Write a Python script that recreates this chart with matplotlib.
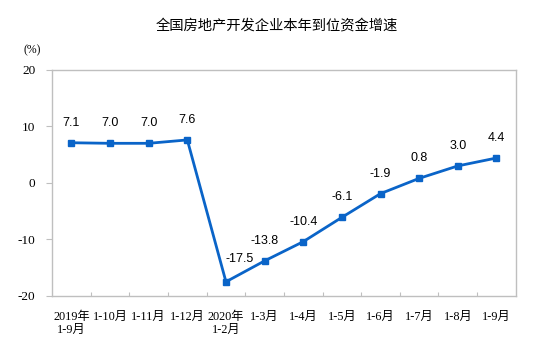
import matplotlib
matplotlib.use("Agg")
import matplotlib.pyplot as plt

plt.rcParams['font.family'] = ['Noto Sans CJK SC', 'DejaVu Sans']

# Data
months = ["2019年\n1-9月", "1-10月", "1-11月", "1-12月", "2020年\n1-2月", "1-3月",
          "1-4月", "1-5月", "1-6月", "1-7月", "1-8月", "1-9月"]
growth = [7.1, 7.0, 7.0, 7.6, -17.5, -13.8, -10.4, -6.1, -1.9, 0.8, 3.0, 4.4]
labels = ["7.1", "7.0", "7.0", "7.6", "-17.5", "-13.8", "-10.4", "-6.1", "-1.9", "0.8", "3.0", "4.4"]

blue = "#0a64c8"
grey = "#bfbfbf"

fig = plt.figure(figsize=(5.54, 3.6), dpi=100)
ax = fig.add_axes([0.094, 0.178, 0.837, 0.628])

x = list(range(len(growth)))
ax.plot(x, growth, color=blue, lw=2, marker="s", ms=5, mec=blue, mfc=blue)

for i, (v, t) in enumerate(zip(growth, labels)):
    if i == 4:
        off = (10, 12)
    else:
        off = (0, 10)
    ax.annotate(t, (i, v), xytext=off, textcoords="offset points",
                ha="center", va="bottom", fontsize=9, family="Liberation Sans")

ax.set_xlim(-0.5, len(growth) - 0.5)
ax.set_ylim(-20, 20)
ax.set_yticks([-20, -10, 0, 10, 20])
ax.set_yticklabels(["-20", "-10", "0", "10", "20"], family="Liberation Serif", fontsize=9.5)
ax.tick_params(axis="y", length=4, color=grey, pad=8)

ax.set_xticks([i + 0.5 for i in range(len(growth) - 1)])
ax.set_xticklabels([])
ax.tick_params(axis="x", direction="in", length=3, color=grey)
for i, m in enumerate(months):
    ax.text(i, -22.6, m, ha="center", va="top", fontsize=8.8, linespacing=1.2,
            family=["Liberation Serif", "Noto Sans CJK SC"])

for s in ax.spines.values():
    s.set_color(grey)
    s.set_linewidth(1)

fig.text(0.5, 0.93, "全国房地产开发企业本年到位资金增速", ha="center", va="center", fontsize=10.3)
fig.text(0.058, 0.86, "(%)", ha="center", va="center", fontsize=8.5, family="Liberation Serif")

fig.savefig("out.png", dpi=100)
